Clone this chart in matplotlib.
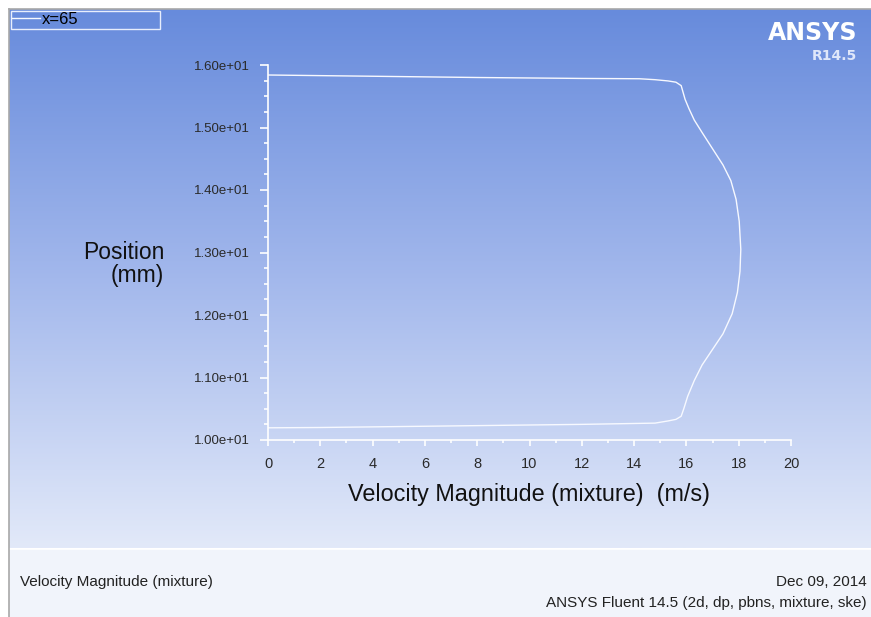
import numpy as np
import matplotlib
matplotlib.use("Agg")
import matplotlib.pyplot as plt
from matplotlib.ticker import MultipleLocator, FuncFormatter
from matplotlib.colors import LinearSegmentedColormap

plt.rcParams["font.family"] = ["Liberation Sans", "DejaVu Sans"]

# Velocity profile across the channel at x=65
velocity = [0.0, 2.0, 4.0, 8.0, 12.0, 14.2, 14.8, 15.3, 15.6, 15.8, 15.95, 16.1,
            16.3, 16.6, 17.0, 17.4, 17.7, 17.9, 18.02, 18.08, 18.05, 17.95,
            17.75, 17.4, 17.0, 16.6, 16.3, 16.05, 15.9, 15.8, 15.6, 15.3,
            14.8, 12.0, 8.0, 4.0, 2.0, 0.0]
position = [15.84, 15.83, 15.82, 15.80, 15.785, 15.78, 15.765, 15.745, 15.725, 15.67,
            15.45, 15.30, 15.12, 14.92, 14.66, 14.40, 14.15, 13.85, 13.50, 13.05,
            12.70, 12.36, 12.02, 11.70, 11.45, 11.20, 10.95, 10.70, 10.50, 10.38,
            10.33, 10.305, 10.27, 10.25, 10.23, 10.21, 10.20, 10.195]

series_label = "x=65"
x_label = "Velocity Magnitude (mixture)  (m/s)"
y_label = "Position\n(mm)"
x_limits = (0, 20)
y_limits = (10.0, 16.0)

W, H = 871, 617
fig = plt.figure(figsize=(W / 100, H / 100), dpi=100)
fig.patch.set_facecolor("white")

# Window decoration: gradient viewport, frame lines, footer panel
bg = fig.add_axes([0, 0, 1, 1], zorder=-10)
bg.set_xlim(0, W)
bg.set_ylim(H, 0)
bg.axis("off")
grad = LinearSegmentedColormap.from_list("vp", ["#678bdc", "#a3b8ec", "#e2e9f9"])
g = np.linspace(0, 1, 256).reshape(-1, 1)
bg.imshow(g, cmap=grad, extent=(9, W, 548, 9), aspect="auto", interpolation="bilinear")
bg.add_patch(plt.Rectangle((9, 549), W - 9, H - 549, color="#f1f4fb", lw=0))
bg.plot([9, W], [548.5, 548.5], color="white", lw=1.2)
bg.plot([8.5, W], [8.5, 8.5], color="#a8a8a8", lw=1.2)
bg.plot([8.5, 8.5], [8.5, H], color="#a8a8a8", lw=1.2)

# Legend frame
bg.add_patch(plt.Rectangle((10.5, 10.5), 149, 18, fill=False,
                           edgecolor="#e8eefc", lw=1.0))

bg.text(857, 33, "ANSYS", color="white", fontsize=17, fontweight="bold",
        ha="right", va="center", family=["DejaVu Sans"])
bg.text(857, 56, "R14.5", color="#dfe7fa", fontsize=10, fontweight="bold",
        ha="right", va="center", family=["DejaVu Sans"])
bg.text(20, 582, "Velocity Magnitude (mixture)", color="#222222", fontsize=11,
        ha="left", va="center")
bg.text(867, 582, "Dec 09, 2014", color="#222222", fontsize=11,
        ha="right", va="center")
bg.text(867, 603, "ANSYS Fluent 14.5 (2d, dp, pbns, mixture, ske)", color="#222222",
        fontsize=11, ha="right", va="center")

# Plot area
ax = fig.add_axes([268 / W, 1 - 440 / H, 523 / W, 375 / H])
ax.set_facecolor("none")
line, = ax.plot(velocity, position, color="#f7f9ff", lw=1.0, label=series_label)
ax.set_xlim(*x_limits)
ax.set_ylim(*y_limits)

for side in ("top", "right"):
    ax.spines[side].set_visible(False)
for side in ("left", "bottom"):
    ax.spines[side].set_color("white")
    ax.spines[side].set_linewidth(1.2)

ax.xaxis.set_major_locator(MultipleLocator(2))
ax.xaxis.set_minor_locator(MultipleLocator(1))
ax.yaxis.set_major_locator(MultipleLocator(1.0))
ax.yaxis.set_minor_locator(MultipleLocator(0.25))
ax.yaxis.set_major_formatter(FuncFormatter(lambda v, p: f"{v:.2e}"))

ax.tick_params(axis="x", which="major", direction="out", length=4.5, width=1.2,
               color="white", labelcolor="#2a2a2a", labelsize=10.5, pad=8)
ax.tick_params(axis="x", which="minor", direction="out", length=2.5, width=1.2,
               color="white")
ax.tick_params(axis="y", which="major", direction="out", length=6, width=1.2,
               color="white", labelcolor="#2a2a2a", labelsize=9.5, pad=7)
ax.tick_params(axis="y", which="minor", direction="out", length=3, width=1.2,
               color="white")

ax.set_xlabel(x_label, fontsize=16.8, color="#111111", va="center")
ax.xaxis.set_label_coords(0.5, -(494 - 440) / 375)
ax.set_ylabel(y_label, fontsize=16.5, color="#111111", rotation=0,
              ha="right", va="center", multialignment="right", linespacing=1.0)
ax.yaxis.set_label_coords((164 - 268) / 523, (440 - 264) / 375)

leg = ax.legend(handles=[line], loc="center left",
                bbox_to_anchor=(12 / W, 1 - 19.5 / H),
                bbox_transform=fig.transFigure, borderaxespad=0, frameon=False,
                fontsize=12, handlelength=1.68, handletextpad=0.12, borderpad=0)
for t in leg.get_texts():
    t.set_color("black")

fig.savefig("out.png", dpi=100, facecolor="white")
